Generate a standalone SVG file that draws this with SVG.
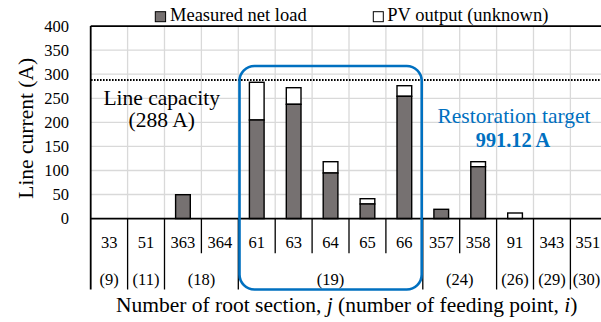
<svg xmlns="http://www.w3.org/2000/svg" width="601" height="322" viewBox="0 0 601 322">
<style>
.grid{stroke:#d9d9d9;stroke-width:1.3;fill:none}
.ax{stroke:#000;stroke-width:1.8;fill:none}
.sep{stroke:#000;stroke-width:1.3;fill:none}
.net{fill:#767171;stroke:#000;stroke-width:1.4}
.pv{fill:#fff;stroke:#000;stroke-width:1.4}
.t{font-family:"Liberation Serif","Times New Roman",serif;fill:#000}
.tick{font-size:16.5px;text-anchor:end}
.num{font-size:16.5px;text-anchor:middle}
.leg{font-size:18.5px}
.big{font-size:21.5px;text-anchor:middle}
.blue{fill:#0070C0}
</style>
<rect width="601" height="322" fill="#fff"/>
<g id="grid">
<path class="grid" d="M90.7 50.2H601M90.7 74.2H601M90.7 98.3H601M90.7 122.4H601M90.7 146.4H601M90.7 170.5H601M90.7 194.5H601"/>
<path class="grid" d="M127.6 26.1V218.6M164.5 26.1V218.6M201.4 26.1V218.6M238.3 26.1V218.6M275.2 26.1V218.6M312.1 26.1V218.6M349 26.1V218.6M385.9 26.1V218.6M422.8 26.1V218.6M459.7 26.1V218.6M496.6 26.1V218.6M533.5 26.1V218.6M570.4 26.1V218.6"/>
</g>
<g id="capacity-line">
<line x1="91" y1="80" x2="601" y2="80" stroke="#000" stroke-width="2" stroke-dasharray="1.6 1.4"/>
</g>
<g id="bars">
<g id="bar-363"><rect class="net" x="175.6" y="194.7" width="14.7" height="23.9"/></g>
<g id="bar-61"><rect class="pv" x="249.4" y="82.3" width="14.7" height="37.7"/><rect class="net" x="249.4" y="120" width="14.7" height="98.6"/></g>
<g id="bar-63"><rect class="pv" x="286.3" y="87.7" width="14.7" height="16.6"/><rect class="net" x="286.3" y="104.3" width="14.7" height="114.3"/></g>
<g id="bar-64"><rect class="pv" x="323.2" y="161.7" width="14.7" height="11.3"/><rect class="net" x="323.2" y="173" width="14.7" height="45.6"/></g>
<g id="bar-65"><rect class="pv" x="360.1" y="198.7" width="14.7" height="5.3"/><rect class="net" x="360.1" y="204" width="14.7" height="14.6"/></g>
<g id="bar-66"><rect class="pv" x="397" y="85.7" width="14.7" height="10.6"/><rect class="net" x="397" y="96.3" width="14.7" height="122.3"/></g>
<g id="bar-357"><rect class="net" x="433.9" y="209.3" width="14.7" height="9.3"/></g>
<g id="bar-358"><rect class="pv" x="470.8" y="161.7" width="14.7" height="5"/><rect class="net" x="470.8" y="166.7" width="14.7" height="51.9"/></g>
<g id="bar-91"><rect class="pv" x="507.7" y="213" width="14.7" height="5.6"/></g>
</g>
<g id="axes">
<path class="ax" d="M90.7 26.1H601M90.7 218.6H601M90.7 26.1V289.5"/>
</g>
<g id="table-lines">
<path class="sep" d="M127.6 218.6V289.5M164.5 218.6V289.5M238.3 218.6V289.5M422.8 218.6V289.5M496.6 218.6V289.5M533.5 218.6V289.5M570.4 218.6V289.5"/>
<path class="sep" d="M201.4 218.6V253.3M275.2 218.6V253.3M312.1 218.6V253.3M349 218.6V253.3M385.9 218.6V253.3M459.7 218.6V253.3"/>
</g>
<g id="restoration-box">
<rect x="239.5" y="66" width="182.2" height="223.5" rx="15" ry="15" fill="none" stroke="#0070C0" stroke-width="2.6"/>
</g>
<g id="y-ticks" class="t tick">
<text x="69" y="31.9">400</text>
<text x="69" y="56">350</text>
<text x="69" y="80">300</text>
<text x="69" y="104.1">250</text>
<text x="69" y="128.2">200</text>
<text x="69" y="152.2">150</text>
<text x="69" y="176.3">100</text>
<text x="69" y="200.3">50</text>
<text x="69" y="224.4">0</text>
</g>
<g id="section-labels" class="t num">
<text x="109.15" y="247.7">33</text>
<text x="146.05" y="247.7">51</text>
<text x="182.95" y="247.7">363</text>
<text x="219.85" y="247.7">364</text>
<text x="256.75" y="247.7">61</text>
<text x="293.65" y="247.7">63</text>
<text x="330.55" y="247.7">64</text>
<text x="367.45" y="247.7">65</text>
<text x="404.35" y="247.7">66</text>
<text x="441.25" y="247.7">357</text>
<text x="478.15" y="247.7">358</text>
<text x="515.05" y="247.7">91</text>
<text x="551.95" y="247.7">343</text>
<text x="587.8" y="247.7">351</text>
</g>
<g id="feeding-labels" class="t num">
<text x="109.15" y="284.5">(9)</text>
<text x="146.05" y="284.5">(11)</text>
<text x="201.4" y="284.5">(18)</text>
<text x="330.55" y="284.5">(19)</text>
<text x="459.7" y="284.5">(24)</text>
<text x="515.05" y="284.5">(26)</text>
<text x="551.95" y="284.5">(29)</text>
<text x="586.6" y="284.5">(30)</text>
</g>
<g id="legend">
<rect x="155.3" y="11.7" width="10.3" height="10" fill="#767171" stroke="#000" stroke-width="1"/>
<text class="t leg" x="170" y="21">Measured net load</text>
<rect x="373.3" y="11.7" width="10" height="10" fill="#fff" stroke="#000" stroke-width="1"/>
<text class="t leg" x="387.3" y="21">PV output (unknown)</text>
</g>
<g id="annotations">
<text class="t big" x="161.7" y="104.5">Line capacity</text>
<text class="t big" x="161.7" y="126.5">(288 A)</text>
<text class="t big blue" x="514" y="122.7">Restoration target</text>
<text class="t blue" x="513" y="146.7" font-size="20.3" font-weight="bold" text-anchor="middle">991.12 A</text>
</g>
<g id="axis-titles">
<text class="t big" transform="translate(33 128.3) rotate(-90)" x="0" y="0">Line current (A)</text>
<text class="t big" x="346.7" y="312">Number of root section, <tspan font-style="italic">j</tspan> (number of feeding point, <tspan font-style="italic">i</tspan>)</text>
</g>
</svg>
